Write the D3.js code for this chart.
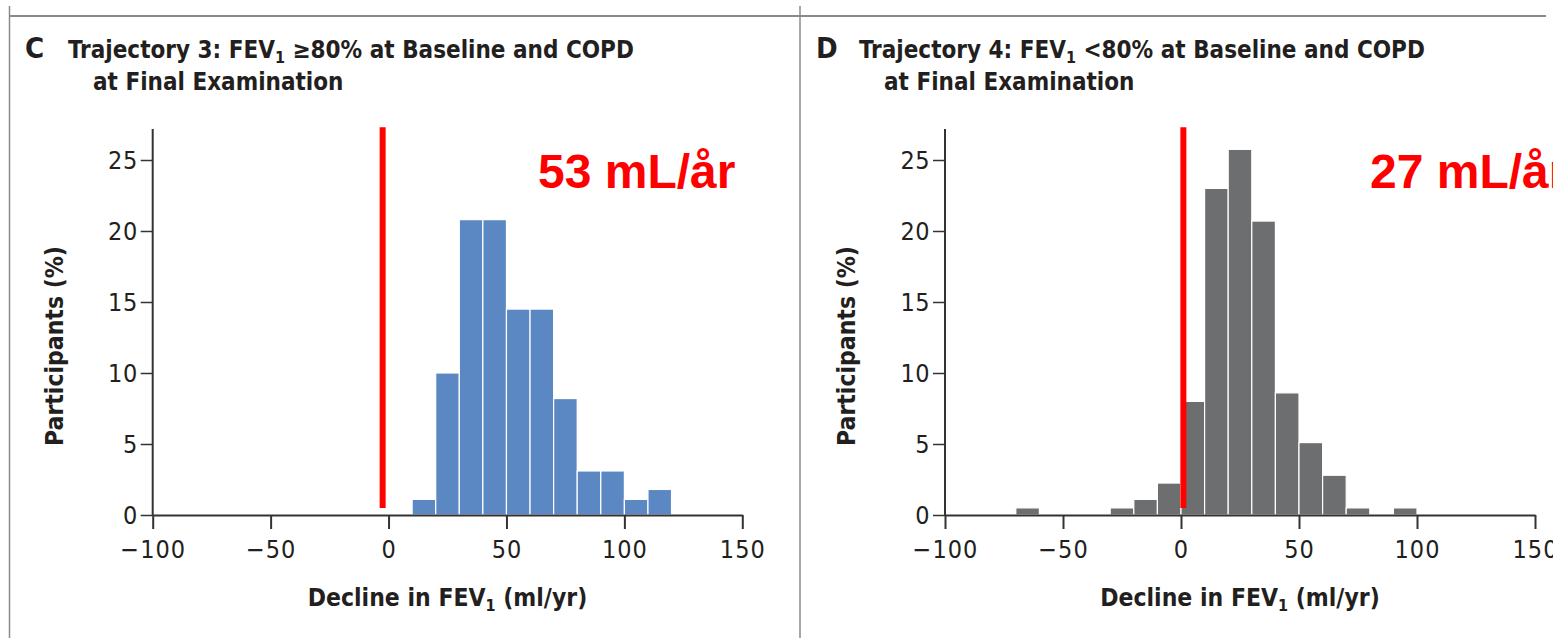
<!DOCTYPE html>
<html>
<head>
<meta charset="utf-8">
<script src="https://cdn.jsdelivr.net/npm/d3@7"></script>
<style>
  body { margin: 0; background: #fff; }
  .cond { font-family: "Liberation Sans Narrow", "DejaVu Sans Condensed", sans-serif; }
</style>
</head>
<body>
<div id="chart"></div>
<script>
// Histogram data (bin start in ml/yr, % of participants)
const binWidth = 10;
const binsC = [10, 20, 30, 40, 50, 60, 70, 80, 90, 100, 110];
const valuesC = [1.1, 10.0, 20.8, 20.8, 14.5, 14.5, 8.2, 3.1, 3.1, 1.1, 1.8];
const binsD = [-70, -60, -50, -40, -30, -20, -10, 0, 10, 20, 30, 40, 50, 60, 70, 80, 90];
const valuesD = [0.5, 0, 0, 0, 0.5, 1.1, 2.25, 8.0, 23.0, 25.75, 20.7, 8.6, 5.1, 2.8, 0.5, 0, 0.5];
const xTicks = [-100, -50, 0, 50, 100, 150];
const yTicks = [0, 5, 10, 15, 20, 25];

// red reference line position and the annotation
const markC = -2.5, markD = 1;
const labelC = "53 mL/år", labelD = "27 mL/år";

const width = 1553, height = 638;
const svg = d3.select("#chart").append("svg")
    .attr("width", width)
    .attr("height", height);

// frame lines
svg.append("line").attr("x1", 9).attr("x2", 1546).attr("y1", 16).attr("y2", 16)
    .attr("stroke", "#8a8a8a").attr("stroke-width", 2);
svg.append("line").attr("x1", 9.5).attr("x2", 9.5).attr("y1", 6).attr("y2", height)
    .attr("stroke", "#8a8a8a").attr("stroke-width", 1.5);
svg.append("line").attr("x1", 800).attr("x2", 800).attr("y1", 6).attr("y2", height)
    .attr("stroke", "#8a8a8a").attr("stroke-width", 1.5);

function drawPanel(opt) {
    const x = d3.scaleLinear().domain([-100, 150]).range([opt.x0, opt.x1]);
    const y = d3.scaleLinear().domain([0, 25]).range([515, 160]);

    const g = svg.append("g");

    // title
    g.append("text").attr("class", "cond")
        .attr("x", opt.letterX).attr("y", 58)
        .attr("font-size", 29).attr("font-weight", "bold").attr("fill", "#231f20")
        .text(opt.letter);

    const t1 = g.append("text").attr("class", "cond")
        .attr("x", opt.letterX + 43).attr("y", 58)
        .attr("font-size", 24).attr("font-weight", "bold").attr("fill", "#231f20");
    t1.append("tspan").text(opt.titleA);
    t1.append("tspan").attr("font-size", 16).attr("dy", 5).text("1");
    t1.append("tspan").attr("dy", -5).text(opt.titleB);

    g.append("text").attr("class", "cond")
        .attr("x", opt.letterX + 68).attr("y", 90)
        .attr("font-size", 24).attr("font-weight", "bold").attr("fill", "#231f20")
        .text("at Final Examination");

    // bars
    g.selectAll("rect.bar")
        .data(opt.bins.map((b, i) => ({ start: b, value: opt.values[i] })).filter(d => d.value > 0))
        .enter().append("rect")
        .attr("class", "bar")
        .attr("x", d => x(d.start))
        .attr("width", d => x(d.start + binWidth) - x(d.start))
        .attr("y", d => y(d.value))
        .attr("height", d => y(0) - y(d.value))
        .attr("fill", opt.color)
        .attr("stroke", "#fff")
        .attr("stroke-width", 1.2);

    // axes
    const xAxis = g.append("g")
        .attr("transform", `translate(0,${y(0)})`)
        .call(d3.axisBottom(x).tickValues(xTicks).tickSize(14).tickSizeOuter(0)
            .tickFormat(d => d < 0 ? "\u2212" + Math.abs(d) : d));
    xAxis.select(".domain").attr("stroke", "#333").attr("stroke-width", 2.2);
    xAxis.selectAll(".tick line").attr("stroke", "#333").attr("stroke-width", 2);
    xAxis.selectAll(".tick text").attr("class", "cond")
        .attr("font-size", 25).attr("fill", "#231f20").attr("dy", "1.05em")
        .attr("letter-spacing", 1);

    const yAxis = g.append("g")
        .attr("transform", `translate(${opt.x0},0)`)
        .call(d3.axisLeft(y).tickValues(yTicks).tickSize(12).tickSizeOuter(0).tickPadding(3));
    yAxis.select(".domain").attr("d", `M0,${y(0)}V129`).attr("stroke", "#333").attr("stroke-width", 2);
    yAxis.selectAll(".tick line").attr("stroke", "#333").attr("stroke-width", 1.5);
    yAxis.selectAll(".tick text").attr("class", "cond")
        .attr("font-size", 25).attr("fill", "#231f20").attr("letter-spacing", 0.5);

    // axis labels
    g.append("text").attr("class", "cond")
        .attr("transform", `translate(${opt.x0 - 90},${y(11.9)}) rotate(-90)`)
        .attr("text-anchor", "middle")
        .attr("font-size", 24.5).attr("font-weight", "bold").attr("fill", "#231f20")
        .text("Participants (%)");

    const xl = g.append("text").attr("class", "cond")
        .attr("x", (opt.x0 + opt.x1) / 2).attr("y", 606)
        .attr("text-anchor", "middle")
        .attr("font-size", 24.5).attr("font-weight", "bold").attr("fill", "#231f20");
    xl.append("tspan").text("Decline in FEV");
    xl.append("tspan").attr("font-size", 16).attr("dy", 5).text("1");
    xl.append("tspan").attr("dy", -5).text(" (ml/yr)");

    // red reference line
    g.append("line")
        .attr("x1", x(opt.mark)).attr("x2", x(opt.mark))
        .attr("y1", y(27.3)).attr("y2", y(0.5))
        .attr("stroke", "#ff0000").attr("stroke-width", 6);

    g.append("text")
        .attr("x", opt.labelX).attr("y", 188)
        .attr("font-family", "'Liberation Sans', Arial, sans-serif")
        .attr("font-size", 48).attr("font-weight", "bold").attr("fill", "#ff0000")
        .text(opt.label);
}

drawPanel({
    x0: 152.7, x1: 742.3, letter: "C", letterX: 25,
    titleA: "Trajectory 3: FEV", titleB: " \u226580% at Baseline and COPD",
    bins: binsC, values: valuesC, color: "#5b88c3",
    mark: markC, label: labelC, labelX: 538
});

drawPanel({
    x0: 945, x1: 1535, letter: "D", letterX: 816,
    titleA: "Trajectory 4: FEV", titleB: " <80% at Baseline and COPD",
    bins: binsD, values: valuesD, color: "#6d6e70",
    mark: markD, label: labelD, labelX: 1370
});
</script>
</body>
</html>
